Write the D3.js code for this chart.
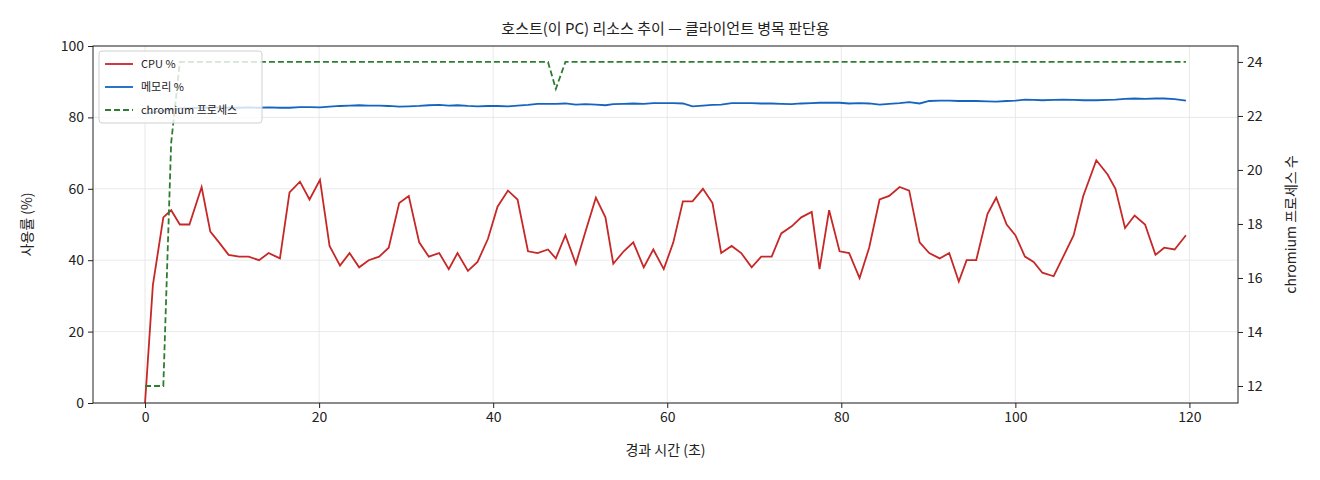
<!DOCTYPE html>
<html><head><meta charset="utf-8">
<script src="https://cdn.jsdelivr.net/npm/d3@7"></script>
<style>
body{margin:0;background:#fff;font-family:"Noto Sans CJK KR","DejaVu Sans",sans-serif;}
text{fill:#222;}
</style></head>
<body><div id="chart"></div>
<script>
const times = [0,0.9,2.1,3.0,4.0,5.1,6.5,7.5,8.5,9.6,10.8,11.9,13.1,14.2,15.5,16.6,17.8,18.9,20.1,21.2,
  22.4,23.5,24.6,25.7,26.9,28.0,29.2,30.3,31.5,32.6,33.8,34.9,35.9,37.1,38.2,39.4,40.5,41.7,42.8,44.0,
  45.1,46.3,47.2,48.3,49.5,50.6,51.8,52.9,53.8,55.0,56.1,57.3,58.4,59.6,60.7,61.8,62.9,64.1,65.2,66.2,
  67.4,68.5,69.7,70.8,72.0,73.1,74.3,75.4,76.6,77.5,78.6,79.8,80.9,82.1,83.2,84.4,85.5,86.7,87.8,89.0,
  90.1,91.3,92.4,93.5,94.4,95.5,96.8,97.8,99.0,100.0,101.1,102.1,103.1,104.4,105.5,106.7,107.8,109.3,110.6,111.5,
  112.6,113.7,114.9,116.1,117.1,118.3,119.6];
const cpu = [0,33,52,54,50,50,60.5,48,45,41.5,41,41,40,42,40.5,59,62,57,62.5,44,
  38.5,42,38,40,41,43.5,56,58,45,41,42,37.5,42,37,39.5,46,55,59.5,57,42.5,
  42,43,40.5,47,39,48,57.5,52,39,42.5,45,38,43,37.5,45,56.5,56.5,60,56,42,
  44,42,38,41,41,47.5,49.5,52,53.5,37.5,54,42.5,42,35,43.5,57,58,60.5,59.5,45,
  42,40.5,42,34,40,40,53,57.5,50,47,41,39.5,36.5,35.5,41,47,58,68,64,60,
  49,52.5,50,41.5,43.5,43,47];
const memory = [81,81.4,81.8,82.2,82.5,82.6,82.7,82.7,82.8,82.7,82.7,82.8,82.7,82.8,82.7,82.7,82.9,82.9,82.8,83.0,
  83.2,83.3,83.4,83.3,83.3,83.2,83.0,83.1,83.2,83.4,83.5,83.3,83.4,83.2,83.1,83.2,83.2,83.1,83.3,83.5,
  83.8,83.8,83.8,83.9,83.6,83.7,83.6,83.4,83.7,83.8,83.9,83.8,84.0,84.0,84.0,83.9,83.1,83.3,83.5,83.6,
  84.0,84.0,84.0,83.9,83.9,83.8,83.7,83.9,84.0,84.1,84.1,84.1,83.9,84.0,83.9,83.6,83.8,84.0,84.3,83.9,
  84.6,84.7,84.7,84.6,84.6,84.6,84.5,84.4,84.6,84.7,85.0,84.9,84.8,84.9,85.0,84.9,84.8,84.8,84.9,85.0,
  85.2,85.3,85.2,85.3,85.3,85.1,84.7,84.6];
// chromium process count: 12 for the first three samples, 21 at the fourth, dip to 23 at t=47.2, else 24
const chromiumStart = [12,12,12,21];
const chromium = times.map((t, i) => i < chromiumStart.length ? chromiumStart[i] : (i === 42 ? 23 : 24));
const xTicks = [0,20,40,60,80,100,120];
const yTicks = [0,20,40,60,80,100];
const y2Ticks = [12,14,16,18,20,22,24];

const width = 1320, height = 480;
const margin = {top: 46, right: 82, bottom: 77, left: 93};
const iw = width - margin.left - margin.right, ih = height - margin.top - margin.bottom;

const svg = d3.select("#chart").append("svg").attr("width", width).attr("height", height);
const g = svg.append("g").attr("transform", `translate(${margin.left},${margin.top})`);

const x = d3.scaleLinear().domain([-5.98, 125.58]).range([0, iw]);
const y = d3.scaleLinear().domain([0, 100]).range([ih, 0]);
const y2 = d3.scaleLinear().domain([11.37, 24.59]).range([ih, 0]);

// grid
g.append("g").selectAll("line").data(xTicks).join("line")
  .attr("x1", d => x(d)).attr("x2", d => x(d)).attr("y1", 0).attr("y2", ih)
  .attr("stroke", "#e3e3e3").attr("stroke-width", 0.8);
g.append("g").selectAll("line").data(yTicks).join("line")
  .attr("x1", 0).attr("x2", iw).attr("y1", d => y(d)).attr("y2", d => y(d))
  .attr("stroke", "#e3e3e3").attr("stroke-width", 0.8);

const line = (ys, sc) => d3.line().x((d, i) => x(times[i])).y((d, i) => sc(ys[i]))(times);

g.append("path").attr("d", line(cpu, y)).attr("fill", "none").attr("stroke", "#c62828").attr("stroke-width", 1.8);
g.append("path").attr("d", line(memory, y)).attr("fill", "none").attr("stroke", "#1565c0").attr("stroke-width", 1.8);
g.append("path").attr("d", line(chromium, y2)).attr("fill", "none").attr("stroke", "#2e7d32")
  .attr("stroke-width", 1.8).attr("stroke-dasharray", "6,3");

// axes
const styleAxis = a => { a.selectAll("text").style("font-size", "14px").style("font-family", "'Noto Sans CJK KR',sans-serif");
  a.select(".domain").remove(); a.selectAll("line").attr("stroke", "#222"); };
g.append("g").attr("transform", `translate(0,${ih})`)
  .call(d3.axisBottom(x).tickValues(xTicks).tickSize(5).tickPadding(4)).call(styleAxis);
g.append("g").call(d3.axisLeft(y).tickValues(yTicks).tickSize(5).tickPadding(4)).call(styleAxis);
g.append("g").attr("transform", `translate(${iw},0)`)
  .call(d3.axisRight(y2).tickValues(y2Ticks).tickSize(5).tickPadding(4)).call(styleAxis);
g.append("rect").attr("width", iw).attr("height", ih).attr("fill", "none").attr("stroke", "#222").attr("stroke-width", 1);

// titles
svg.append("text").attr("x", margin.left + iw / 2).attr("y", 34).attr("text-anchor", "middle")
  .style("font-size", "15px").text("호스트(이 PC) 리소스 추이 — 클라이언트 병목 판단용");
svg.append("text").attr("x", margin.left + iw / 2).attr("y", 455).attr("text-anchor", "middle")
  .style("font-size", "14px").text("경과 시간 (초)");
svg.append("text").attr("transform", `translate(32,${margin.top + ih / 2}) rotate(-90)`).attr("text-anchor", "middle")
  .style("font-size", "14px").text("사용률 (%)");
svg.append("text").attr("transform", `translate(1296,${margin.top + ih / 2}) rotate(-90)`).attr("text-anchor", "middle")
  .style("font-size", "14px").text("chromium 프로세스 수");

// legend
const legendItems = [
  {label: "CPU %", color: "#c62828", dash: null},
  {label: "메모리 %", color: "#1565c0", dash: null},
  {label: "chromium 프로세스", color: "#2e7d32", dash: "6,3"}
];
const lg = svg.append("g").attr("transform", "translate(99,51)");
lg.append("rect").attr("width", 163).attr("height", 72).attr("rx", 3)
  .attr("fill", "rgba(255,255,255,0.8)").attr("stroke", "#d0d0d0");
legendItems.forEach((d, i) => {
  const yy = 13 + i * 23;
  lg.append("line").attr("x1", 6).attr("x2", 34).attr("y1", yy).attr("y2", yy)
    .attr("stroke", d.color).attr("stroke-width", 1.8).attr("stroke-dasharray", d.dash);
  lg.append("text").attr("x", 42).attr("y", yy + 4).style("font-size", "11px").text(d.label);
});
</script></body></html>
